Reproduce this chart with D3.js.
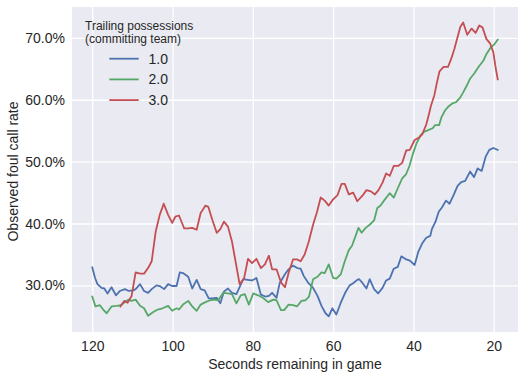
<!DOCTYPE html>
<html>
<head>
<meta charset="utf-8">
<script src="https://cdn.jsdelivr.net/npm/d3@7"></script>
<style>
  html, body { margin: 0; padding: 0; background: #ffffff; }
  svg { display: block; }
  text { font-family: "Liberation Sans", Arial, sans-serif; fill: #262626; }
</style>
</head>
<body>
<svg id="chart" width="525" height="379"></svg>
<script>
// ---- Data (seconds remaining, observed foul call rate %) ----
const seriesNames = ["1.0", "2.0", "3.0"];
const seriesColors = ["#4C72B0", "#55A868", "#C44E52"];
const xTicks = [120, 100, 80, 60, 40, 20];
const yTicks = [30, 40, 50, 60, 70];
const legendTitle = ["Trailing possessions", "(committing team)"];
const xLabel = "Seconds remaining in game";
const yLabel = "Observed foul call rate";

const trailing1 = [
  [120,32.9],[119.3,31.2],[118.7,30.2],[117.7,29.6],[117,29.5],[116.2,28.7],[115.2,29.7],[114.1,28.4],
  [113.1,29.1],[111.9,29.4],[110.9,29.1],[109.8,29.2],[109.2,29.4],[108.1,30.2],[107.1,29.1],[106.1,28.8],
  [105.2,29.4],[104,30.0],[103.2,29.9],[102.1,29.4],[101.1,30.2],[100.1,29.9],[99,29.9],[98.2,32.1],
  [97.4,32.0],[96.1,31.4],[95.1,29.5],[94,30.9],[93,29.4],[92,29.2],[91,27.9],[90.1,27.9],[89,28.0],
  [88.1,27.1],[87.2,29.0],[86.2,29.5],[85.2,28.8],[84.1,28.6],[83.1,30.0],[82.4,31.0],[81.3,30.9],
  [80.2,30.8],[79.1,31.2],[78,28.5],[76.9,28.2],[76,28.3],[75.2,28.8],[74.1,28.0],[73.3,30.4],[72,31.8],
  [71.1,32.6],[70,33.2],[68.9,32.8],[68.1,32.7],[67.3,31.5],[66.3,30.5],[65,29.6],[63.9,28.3],[62.9,26.7],
  [61.9,25.5],[61.1,25.0],[60.2,26.3],[59.2,25.3],[58.1,27.2],[57,28.8],[55.9,30.0],[55.1,30.3],[54,30.9],
  [53.5,31.0],[52.7,30.4],[51.7,29.5],[50.9,31.0],[49.8,29.4],[48.8,28.7],[47.7,29.6],[46.8,30.8],
  [45.9,31.1],[44.9,32.7],[43.9,33.0],[43,34.7],[41.8,34.2],[40.9,34.0],[39.7,33.3],[38.8,35.4],
  [37.8,36.8],[36.8,37.7],[35.8,38.0],[35.4,39.1],[34.5,40.3],[33.7,41.9],[32.9,42.6],[31.9,43.7],
  [31,43.2],[30,44.6],[29,46.1],[28.1,46.7],[27.1,46.9],[25.9,48.4],[24.9,47.5],[24,48.9],[23,48.5],
  [22,50.8],[21.1,51.9],[20.1,52.2],[19,51.9]
];

const trailing2 = [
  [120,28.2],[119.2,26.6],[118.1,26.8],[117.3,26.1],[116.4,25.5],[115.2,26.6],[113.9,26.7],[112.9,26.8],
  [111.7,27.4],[111,27.7],[110.2,27.5],[109.2,27.7],[108.1,26.7],[107.1,26.3],[106.1,25.1],[104.8,25.7],
  [103.7,26.1],[102.5,26.3],[101.1,26.7],[100.1,25.9],[99,26.3],[98.4,26.1],[97.4,26.9],[96.1,27.5],
  [95.1,26.6],[94,25.9],[93,26.9],[91.8,27.3],[90.7,27.6],[89.6,27.7],[88.6,27.6],[87.4,28.8],[86.2,28.7],
  [85.2,28.6],[84.1,27.1],[83,28.4],[82,28.6],[81,26.9],[79.9,28.7],[78.7,28.4],[77.5,28.0],[76.2,27.3],
  [74.9,27.7],[74.1,27.6],[73,26.0],[72.2,26.0],[71.1,26.9],[70,26.8],[69,26.6],[67.9,27.5],[66.9,27.6],
  [66,28.2],[65,31.0],[63.9,31.4],[62.9,32.1],[62.1,32.0],[61.1,33.4],[60,31.2],[59.2,31.1],[58.1,31.8],
  [57.1,33.9],[56.1,35.7],[55.3,36.4],[54.4,38.0],[53.7,39.3],[52.9,38.5],[51.9,39.3],[50.9,39.8],
  [49.8,40.5],[49,42.5],[48.2,42.9],[47.1,43.9],[45.9,44.9],[44.9,44.2],[43.9,45.7],[42.8,47.3],
  [41.8,48.0],[41,49.3],[40.1,51.3],[39.2,53.0],[38.2,54.3],[37.4,54.8],[36.3,55.1],[35.2,55.4],
  [34.6,55.9],[33.6,55.9],[33,57.2],[32.1,58.3],[31.3,58.9],[30.3,59.4],[29.4,59.6],[28.4,60.3],
  [27.6,61.2],[26.7,62.3],[25.9,63.4],[24.9,64.2],[23.8,65.3],[22.6,66.3],[21.8,67.4],[20.8,68.4],
  [19.8,69.0],[19,69.7]
];

const trailing3 = [
  [113,26.6],[112,27.5],[111.2,27.2],[110.2,28.3],[109.2,32.1],[108.1,31.9],[107.1,31.9],[106.1,32.8],
  [105.2,33.9],[104.2,38.7],[103.2,41.4],[102.2,43.2],[101.1,41.4],[100.1,40.1],[99.3,41.1],[98.4,41.3],
  [97.1,39.2],[96.1,39.2],[95.1,39.3],[94,39.0],[93,41.7],[91.8,42.9],[91.1,42.7],[90.1,40.6],[89,38.5],
  [88.1,39.1],[87.2,40.3],[86.2,39.5],[85.2,37.1],[84.4,34.2],[83.3,30.2],[82.2,31.1],[81.2,34.3],
  [80.2,33.6],[79.1,34.3],[78,32.8],[77,33.4],[76,34.8],[75.2,32.6],[74.1,32.6],[73,30.5],[72,29.7],
  [71.1,32.0],[70,34.2],[69,34.2],[68.1,33.9],[67.1,35.0],[66.1,37.0],[65,39.8],[64,41.9],[63.1,44.2],
  [62.1,43.7],[61.1,42.9],[60,43.9],[58.9,44.6],[57.9,46.4],[57.1,46.4],[56.1,44.7],[55,45.0],[54,43.6],
  [52.7,44.5],[51.7,45.4],[50.6,45.2],[49.6,44.7],[48.7,45.4],[47.7,46.6],[46.8,48.1],[45.9,47.7],
  [44.9,49.3],[43.8,49.3],[42.8,49.8],[41.8,51.8],[40.9,51.9],[39.7,53.5],[38.6,53.9],[37.8,54.4],
  [36.8,56.0],[36.2,57.5],[35.6,59.1],[34.8,60.7],[34.2,62.6],[33.5,64.6],[32.5,65.3],[31.4,65.3],
  [30.6,66.6],[29.8,68.2],[28.9,70.4],[28.3,71.8],[27.6,72.5],[26.6,70.5],[25.5,71.5],[24.5,70.8],
  [23.6,72.0],[22.8,71.7],[21.8,69.8],[20.9,69.1],[20.1,67.7],[19.6,65.5],[19,63.3]
];

const allSeries = [trailing1, trailing2, trailing3];

// ---- Layout ----
const svg = d3.select("#chart");
const margin = { left: 72, top: 7, right: 7, bottom: 47 };
const W = 525, H = 379;
const pw = W - margin.left - margin.right;
const ph = H - margin.top - margin.bottom;

const x = d3.scaleLinear().domain([125.05, 13.95]).range([0, pw]);
const y = d3.scaleLinear().domain([22.47, 74.99]).range([ph, 0]);

const g = svg.append("g").attr("transform", `translate(${margin.left},${margin.top})`);

g.append("rect").attr("width", pw).attr("height", ph).attr("fill", "#EAEAF2");

// grid + tick labels via axes
const yAxis = d3.axisLeft(y).tickValues(yTicks).tickSizeInner(-pw).tickSizeOuter(0).tickPadding(7)
  .tickFormat(d => d.toFixed(1) + "%");
const yg = g.append("g").call(yAxis);
yg.select(".domain").remove();
yg.selectAll(".tick line").attr("stroke", "#ffffff").attr("stroke-width", 1.3);
yg.selectAll(".tick text").attr("font-size", 14).attr("fill", "#262626")
  .style("font-family", '"Liberation Sans", Arial, sans-serif');

const xAxis = d3.axisBottom(x).tickValues(xTicks).tickSizeInner(-ph).tickSizeOuter(0).tickPadding(9);
const xg = g.append("g").attr("transform", `translate(0,${ph})`).call(xAxis);
xg.select(".domain").remove();
xg.selectAll(".tick line").attr("stroke", "#ffffff").attr("stroke-width", 1.3);
xg.selectAll(".tick text").attr("font-size", 14).attr("fill", "#262626")
  .style("font-family", '"Liberation Sans", Arial, sans-serif');

// lines
const line = d3.line().x(d => x(d[0])).y(d => y(d[1]));
allSeries.forEach((s, i) => {
  g.append("path").datum(s).attr("d", line)
    .attr("fill", "none").attr("stroke", seriesColors[i])
    .attr("stroke-width", 1.8).attr("stroke-linejoin", "round").attr("stroke-linecap", "square");
});

// axis labels
svg.append("text").attr("x", margin.left + pw / 2).attr("y", 369)
  .attr("text-anchor", "middle").attr("font-size", 14).text(xLabel);
svg.append("text").attr("transform", `translate(18,${margin.top + ph / 2 + 2}) rotate(-90)`)
  .attr("text-anchor", "middle").attr("font-size", 14).text(yLabel);

// legend
const lg = svg.append("g");
legendTitle.forEach((t, i) => {
  lg.append("text").attr("x", 85).attr("y", 29.5 + i * 13.5).attr("font-size", 12).text(t);
});
seriesNames.forEach((n, i) => {
  const yy = 58.7 + i * 20.7;
  lg.append("line").attr("x1", 109.3).attr("x2", 138.7).attr("y1", yy).attr("y2", yy)
    .attr("stroke", seriesColors[i]).attr("stroke-width", 1.8);
  lg.append("text").attr("x", 148.5).attr("y", yy + 5).attr("font-size", 14).text(n);
});
</script>
</body>
</html>
